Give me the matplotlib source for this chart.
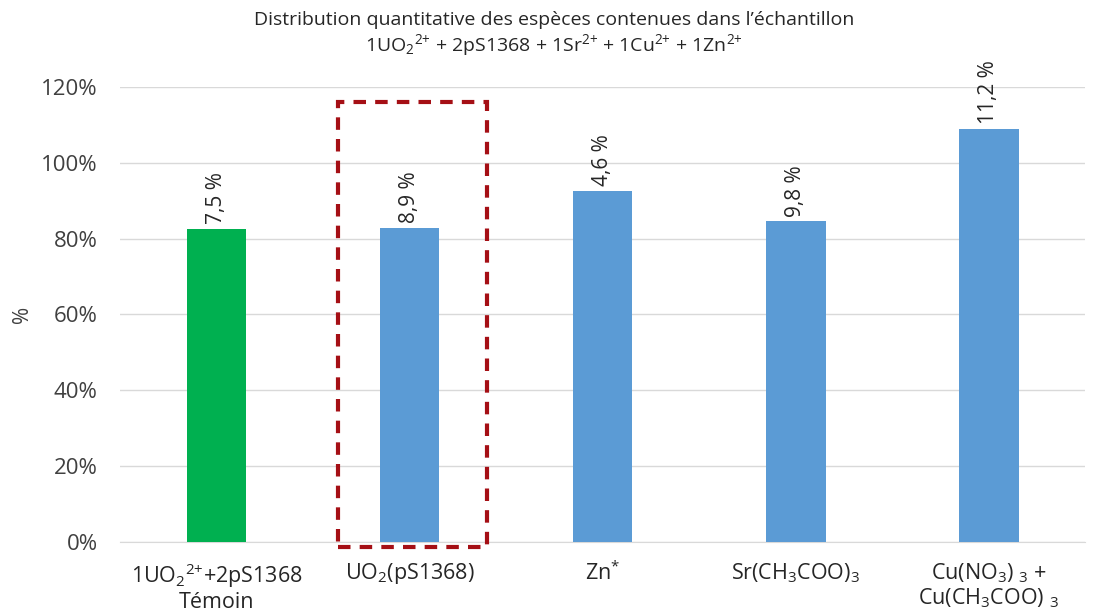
import matplotlib.pyplot as plt
from matplotlib.patches import Rectangle
from matplotlib.ticker import PercentFormatter

plt.rcParams['font.family'] = ['Open Sans', 'DejaVu Sans']
plt.rcParams['mathtext.fontset'] = 'custom'
plt.rcParams['mathtext.rm'] = 'Open Sans'
plt.rcParams['mathtext.it'] = 'Open Sans'
plt.rcParams['mathtext.default'] = 'regular'

samples = [
    '1UO$_2$$^{2{+}}$+2pS1368\nTémoin',
    'UO$_2$(pS1368)',
    'Zn$^{{*}}$',
    'Sr(CH$_3$COO)$_3$',
    'Cu(NO$_3$) $_3$ +\nCu(CH$_3$COO) $_3$',
]
fractions = [0.826, 0.829, 0.926, 0.846, 1.090]
spread = ['7,5 %', '8,9 %', '4,6 %', '9,8 %', '11,2 %']
colors = ['#00B050', '#5B9BD5', '#5B9BD5', '#5B9BD5', '#5B9BD5']

fig = plt.figure(figsize=(10.95, 6.14), dpi=100)
ax = fig.add_axes([0.1096, 0.1173, 0.8814, 0.741])

x = range(len(samples))
bars = ax.bar(x, fractions, width=0.31, color=colors, zorder=3)
for b, txt in zip(bars, spread):
    ax.text(b.get_x() + b.get_width() / 2, b.get_height() + 0.012, txt,
            rotation=90, ha='center', va='bottom', fontsize=15, color='#262626')

# highlight the UO2(pS1368) sample
ax.add_patch(Rectangle((0.627, -0.013), 0.772, 1.173, fill=False,
                       edgecolor='#A50F15', linewidth=3, linestyle=(0, (3, 2.2)),
                       clip_on=False, zorder=4))

ax.set_xlim(-0.5, len(samples) - 0.5)
ax.set_ylim(0, 1.2)
ax.set_yticks([0, 0.2, 0.4, 0.6, 0.8, 1.0, 1.2])
ax.yaxis.set_major_formatter(PercentFormatter(1.0, decimals=0))
ax.set_xticks(list(x))
ax.set_xticklabels(samples, fontsize=15.5, color='#262626', linespacing=1.1)
ax.tick_params(axis='y', labelsize=16, colors='#404040', length=0, pad=16)
ax.tick_params(axis='x', length=0, pad=14)
ax.grid(axis='y', color='#D9D9D9', linewidth=1, zorder=0)
for s in ['top', 'right', 'left']:
    ax.spines[s].set_visible(False)
ax.spines['bottom'].set_color('#D9D9D9')
ax.set_ylabel('%', fontsize=15, color='#404040', labelpad=6)

fig.text(0.506, 0.967, "Distribution quantitative des espèces contenues dans l’échantillon",
         ha='center', va='center', fontsize=14, color='#262626')
fig.text(0.506, 0.927, '1UO$_2$$^{2{+}}$ + 2pS1368 + 1Sr$^{2{+}}$ + 1Cu$^{2{+}}$ + 1Zn$^{2{+}}$',
         ha='center', va='center', fontsize=14, color='#262626')

fig.savefig('out.png', dpi=100)
